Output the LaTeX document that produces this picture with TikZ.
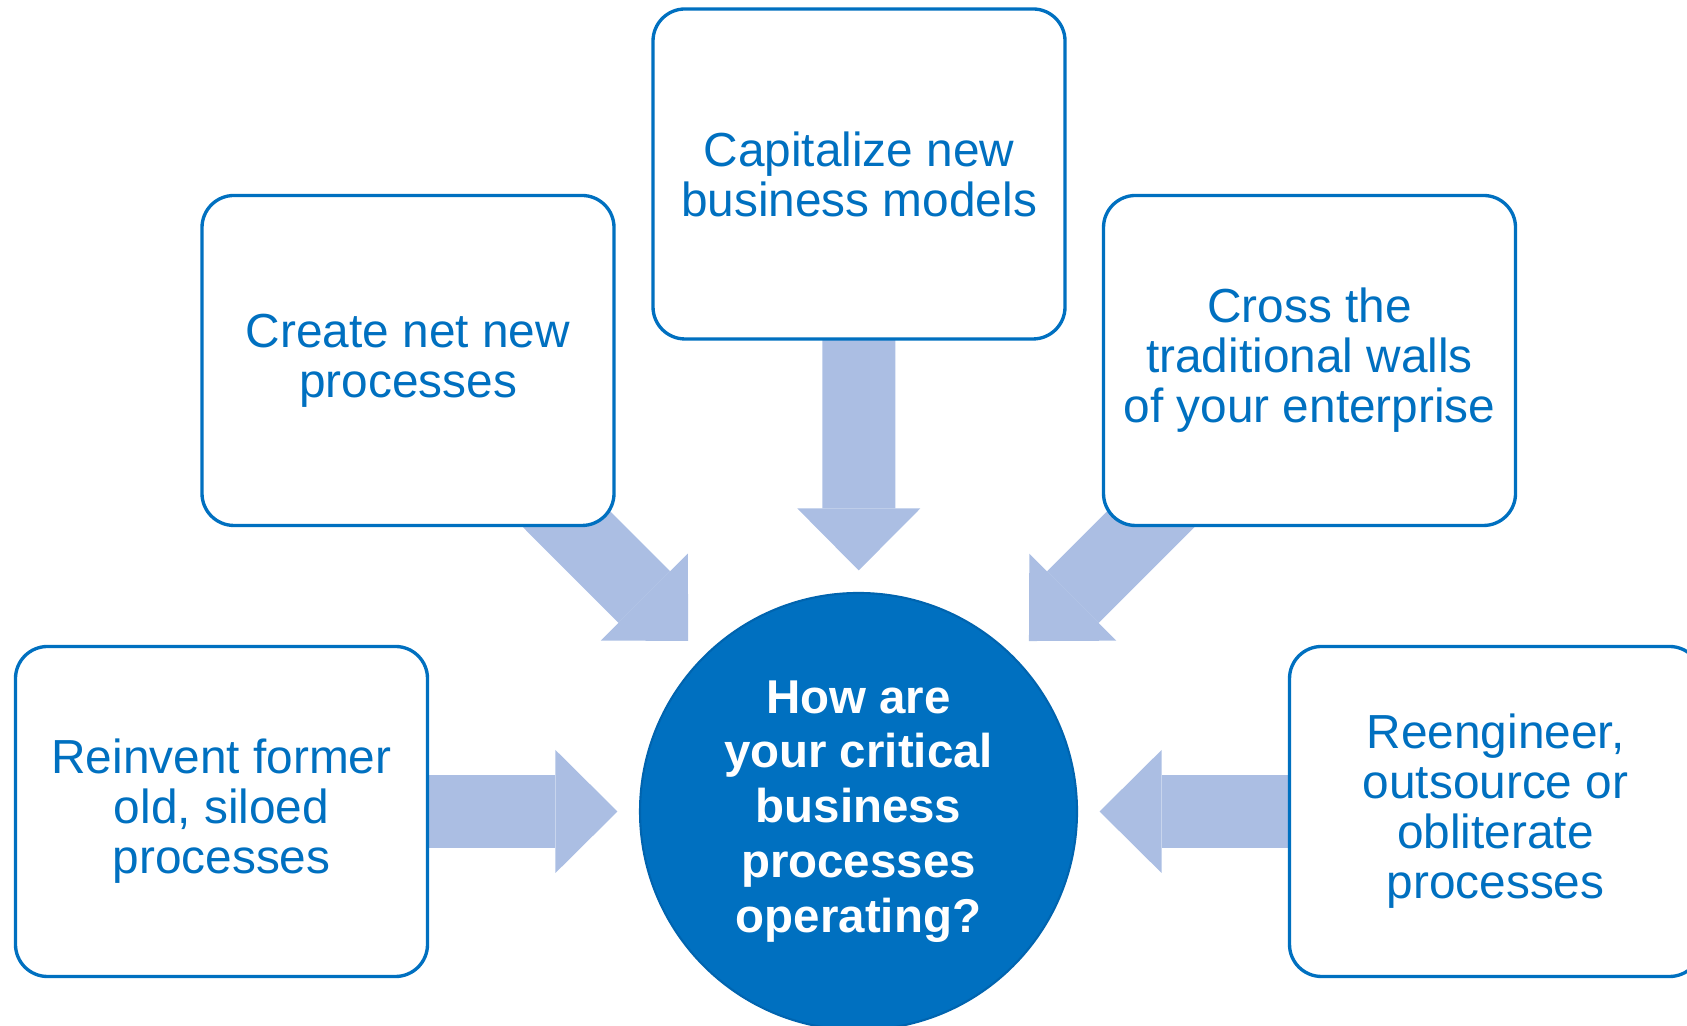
\documentclass[tikz,border=0pt]{standalone}
\usepackage{fontspec}
\setmainfont{Liberation Sans}
\usetikzlibrary{arrows.meta,backgrounds}

\definecolor{boxblue}{RGB}{0,112,192}
\definecolor{hubedge}{RGB}{0,100,175}
\definecolor{fatblue}{RGB}{171,190,227}

\tikzset{
    idea/.style={shape=rectangle, rounded corners=0.32cm, draw=boxblue, line width=0.95pt,
        fill=white, text=boxblue, minimum width=4.12cm, minimum height=3.30cm, align=center,
        font=\fontsize{13.6}{14.2}\selectfont},
    hubnode/.style={shape=circle, fill=boxblue, draw=hubedge, line width=0.6pt,
        minimum size=4.37cm, inner sep=0pt, text=white, align=center,
        font=\bfseries\fontsize{13.5}{15.6}\selectfont},
    fat/.style={color=fatblue, line width=7.3mm,
        -{Triangle[length=6.2mm, width=12.3mm, line width=0pt, color=fatblue, fill=fatblue]},
        shorten >=2.15mm}
}

\begin{document}
\begin{tikzpicture}
        \useasboundingbox (0,0) rectangle (16.87,10.26);

        \node[hubnode] (hub) at (8.585,2.145) {How are\\your critical\\business\\processes\\operating?};

        \node[idea] (capitalize) at (8.59,8.52) {Capitalize new\\business models};
        \node[idea] (create) at (4.08,6.655) {Create net new\\processes};
        \node[idea] (cross) at (13.095,6.655) {Cross the\\traditional walls\\of your enterprise};
        \node[idea] (reinvent) at (2.215,2.145) {Reinvent former\\old, siloed\\processes};
        \node[idea] (reengineer) at (14.955,2.145) {Reengineer,\\outsource or\\obliterate\\processes};

        \begin{pgfonlayer}{background}
            \path [fat] (capitalize.center) edge (hub);
            \path [fat] (create.center) edge (hub);
            \path [fat] (cross.center) edge (hub);
            \path [fat] (reinvent.center) edge (hub);
            \path [fat] (reengineer.center) edge (hub);
        \end{pgfonlayer}
    \end{tikzpicture}
\end{document}
